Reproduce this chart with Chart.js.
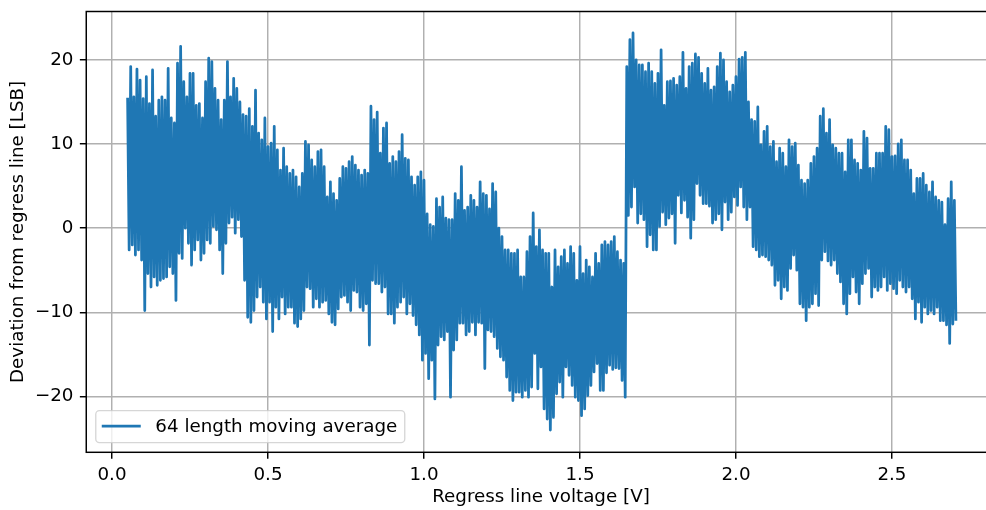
<!DOCTYPE html>
<html><head><meta charset="utf-8">
<script src="https://cdn.jsdelivr.net/npm/chart.js@4.4.1/dist/chart.umd.min.js"></script>
<style>html,body{margin:0;padding:0;overflow:hidden;background:#fff;width:986px;height:510px}canvas{display:block}</style>
</head><body><canvas id="c" width="1000" height="510"></canvas>
<script>
const seriesLabel = '64 length moving average';
const xTitle = 'Regress line voltage [V]';
const yTitle = 'Deviation from regress line [LSB]';
const xTicks = [0, 0.5, 1.0, 1.5, 2.0, 2.5];
const yTicks = [-20, -10, 0, 10, 20];
// sampled voltage grid (V)
const vStart = 0.05, vStep = 0.01;
// upper / lower excursion of the moving average in each 0.01 V bin (LSB)
const upper = [
15.5,19.2,15.6,18.9,17.6,15.4,18.0,14.8,18.8,13.3,
15.2,15.6,15.2,19.0,13.1,12.5,19.6,21.6,17.4,15.6,
18.4,18.4,14.6,14.8,13.1,17.4,20.2,19.8,16.6,15.2,
12.9,15.2,19.8,15.6,17.8,16.6,15.0,13.5,13.3,14.2,
12.1,16.4,11.3,10.5,13.1,9.7,10.1,12.1,9.3,6.9,
9.5,7.3,6.5,6.9,6.1,4.9,6.5,10.3,9.9,8.1,
7.3,9.1,9.3,7.3,3.7,5.5,4.1,3.3,5.9,7.3,
7.1,7.9,8.5,7.5,6.9,6.3,6.9,6.5,14.5,12.9,
13.8,8.9,11.9,12.5,7.7,8.5,7.9,9.1,11.1,8.3,
8.1,6.1,5.1,6.1,6.7,5.7,1.7,0.4,0.2,3.5,
2.5,3.7,1.2,1.0,1.0,4.1,3.3,7.3,2.1,2.5,
3.9,3.3,2.5,5.5,4.1,3.9,2.3,5.3,4.3,0.0,
-1.0,-2.6,-2.6,-3.0,-3.0,-2.6,-5.8,-5.8,-2.8,-1.0,
1.8,-2.2,-0.2,-2.6,-3.0,-3.0,-7.0,-2.6,-4.6,-3.4,
-2.6,-4.2,-2.2,-3.0,-6.2,-2.2,-5.4,-3.8,-4.6,-5.8,
-3.0,-4.2,-2.0,-1.6,-2.0,-1.6,-1.0,-2.8,-3.8,-4.2,
19.2,22.4,23.2,20.0,19.4,19.4,18.6,19.6,18.6,17.2,
18.4,21.2,14.6,17.4,17.5,17.8,17.0,18.0,20.9,16.6,
19.2,19.6,20.7,20.3,18.4,17.2,19.0,16.4,16.8,19.2,
20.8,20.0,17.4,16.2,17.0,18.0,20.1,20.3,20.9,15.0,
12.9,12.7,14.4,9.9,11.5,12.1,9.7,10.3,7.9,9.5,
8.9,7.3,10.5,9.7,10.1,7.5,5.7,5.3,5.7,7.7,
8.5,9.5,13.3,14.2,11.3,12.9,9.9,9.5,8.9,8.9,
6.7,10.5,10.5,8.1,7.7,6.9,11.5,10.7,7.1,7.1,
8.9,8.9,8.9,12.1,11.7,8.5,8.6,10.0,10.5,8.1,
8.1,6.9,4.1,5.9,5.9,6.5,5.1,4.3,5.5,3.7,
3.3,3.1,0.4,3.5,5.5,3.3
];
const lower = [
-2.6,-2.0,-3.2,-2.6,-3.8,-9.8,-5.4,-7.0,-5.8,-6.8,
-6.2,-6.0,-5.8,-4.6,-5.4,-8.6,-3.0,-3.6,0.0,-1.8,
-4.4,-2.6,-1.4,-3.8,-3.0,-1.4,-1.8,0.2,-0.2,-2.6,
-5.4,-1.8,0.6,1.3,-0.6,1.0,-1.0,-6.2,-10.6,-11.2,
-9.8,-8.2,-7.0,-8.8,-10.8,-8.8,-12.3,-9.4,-10.8,-8.2,
-10.2,-9.4,-9.4,-11.3,-11.7,-10.8,-9.8,-7.0,-7.2,-9.4,
-8.4,-9.4,-8.8,-8.6,-10.2,-11.2,-11.5,-9.6,-8.2,-8.0,
-8.8,-9.8,-7.4,-7.6,-9.4,-9.8,-9.0,-13.9,-6.2,-6.6,
-6.6,-7.6,-7.0,-10.2,-10.2,-11.3,-9.4,-8.8,-8.2,-10.2,
-9.0,-10.4,-11.5,-12.7,-15.7,-14.9,-17.9,-15.7,-20.3,-13.9,
-12.9,-13.3,-12.3,-20.1,-14.5,-13.3,-11.3,-11.3,-12.7,-12.3,
-11.2,-12.7,-11.2,-11.3,-16.7,-12.1,-12.3,-12.9,-14.3,-15.3,
-15.7,-17.7,-19.3,-20.5,-19.5,-19.5,-20.1,-19.3,-20.1,-18.9,
-14.9,-19.1,-16.5,-21.5,-22.7,-24.0,-22.5,-19.7,-18.3,-20.1,
-16.5,-17.5,-18.7,-20.1,-20.5,-22.3,-21.5,-19.9,-18.7,-17.1,
-16.1,-19.3,-19.3,-17.2,-16.3,-16.8,-16.6,-16.7,-18.1,-20.1,
1.5,2.5,4.9,0.6,1.7,1.0,-2.2,-0.8,-2.6,-2.6,
0.2,1.9,0.4,1.2,1.7,-1.8,3.9,1.8,3.3,1.3,
-1.2,1.0,5.3,3.9,2.9,2.9,2.6,0.6,1.0,1.7,
-0.2,3.1,1.0,1.9,3.7,2.7,4.9,2.5,1.0,2.5,
-2.2,-2.6,-3.4,-3.2,-3.4,-3.8,-4.4,-6.8,-6.2,-8.4,
-7.0,-7.4,-4.8,-3.2,-5.0,-9.0,-9.4,-11.0,-9.4,-9.0,
-7.8,-9.2,-3.8,-2.8,-3.9,-4.4,-3.8,-5.4,-6.4,-9.0,
-10.2,-7.8,-5.8,-7.6,-9.0,-6.6,-5.4,-4.8,-8.2,-7.0,
-7.4,-7.0,-5.8,-7.4,-6.6,-7.2,-7.8,-6.2,-7.0,-7.6,
-7.0,-8.4,-10.8,-8.8,-11.2,-9.4,-10.2,-9.8,-10.2,-9.4,
-11.0,-11.0,-11.5,-13.7,-11.4,-11.0
];

const points = [];
for (let i = 0; i < upper.length; i++) {
  const v = vStart + i * vStep;
  points.push({x: v, y: upper[i]});
  points.push({x: v + vStep / 2, y: lower[i]});
}

const FS = 18.3;
const FONT = {family: "'DejaVu Sans', sans-serif", size: FS, lineHeight: 1.2};
Chart.defaults.color = '#000';

const framePlugin = {
  id: 'frame',
  afterDatasetsDraw(chart) {
    const {ctx, chartArea: {left, top, right, bottom}} = chart;
    ctx.save();
    ctx.strokeStyle = '#000';
    ctx.lineWidth = 1.47;
    ctx.strokeRect(left, top, right - left, bottom - top);
    // legend (lower left, inside axes)
    const ds = chart.data.datasets[0];
    ctx.font = FS + "px 'DejaVu Sans'";
    const tw = ctx.measureText(ds.label).width;
    const bx = left + 9.5, by = bottom - 41.6, bh = 32;
    const bw = 59.6 + tw + 7.5;
    ctx.beginPath();
    ctx.roundRect(bx, by, bw, bh, 3.7);
    ctx.fillStyle = 'rgba(255,255,255,0.8)';
    ctx.fill();
    ctx.strokeStyle = 'rgba(204,204,204,0.8)';
    ctx.lineWidth = 1.32;
    ctx.stroke();
    ctx.beginPath();
    ctx.strokeStyle = ds.borderColor;
    ctx.lineWidth = 2.75;
    ctx.moveTo(bx + 6, by + 15.3);
    ctx.lineTo(bx + 45, by + 15.3);
    ctx.stroke();
    ctx.fillStyle = '#000';
    ctx.textBaseline = 'middle';
    ctx.textAlign = 'left';
    ctx.fillText(ds.label, bx + 59.6, by + 16.3);
    ctx.restore();
  }
};

new Chart(document.getElementById('c'), {
  type: 'line',
  data: {datasets: [{
    label: seriesLabel, data: points,
    borderColor: '#1f77b4', backgroundColor: '#1f77b4',
    borderWidth: 2.75, pointRadius: 0, tension: 0, fill: false,
    borderJoinStyle: 'round', borderCapStyle: 'butt'
  }]},
  options: {
    responsive: false, animation: false,
    layout: {padding: {top: 11.5, right: 4.3, left: 0, bottom: 0}},
    plugins: {legend: {display: false}, tooltip: {enabled: false}},
    scales: {
      x: {
        type: 'linear', min: -0.0825, max: 2.8325,
        afterBuildTicks: s => { s.ticks = xTicks.map(v => ({value: v})); },
        afterFit: s => { s.height = 57.7; s.paddingLeft = 0; s.paddingRight = 0; },
        ticks: {callback: v => Number(v).toFixed(1), font: FONT, color: '#000', padding: 5.2, maxRotation: 0, autoSkip: false},
        grid: {color: '#b0b0b0', lineWidth: 1.47, tickColor: '#000', tickWidth: 1.47, tickLength: 6.4},
        border: {display: false},
        title: {display: true, text: xTitle, font: FONT, color: '#000', padding: {top: 0, bottom: 1.8}}
      },
      y: {
        type: 'linear', min: -26.65, max: 25.75,
        afterBuildTicks: s => { s.ticks = yTicks.map(v => ({value: v})); },
        afterFit: s => { s.width = 86.26; s.paddingTop = 0; s.paddingBottom = 0; },
        ticks: {callback: v => String(v).replace('-', '\u2212'), font: FONT, color: '#000', padding: 6.4, autoSkip: false},
        grid: {color: '#b0b0b0', lineWidth: 1.47, tickColor: '#000', tickWidth: 1.47, tickLength: 6.4},
        border: {display: false},
        title: {display: true, text: yTitle, font: FONT, color: '#000', padding: {top: 7, bottom: 0}}
      }
    }
  },
  plugins: [framePlugin]
});
</script>
</body></html>
